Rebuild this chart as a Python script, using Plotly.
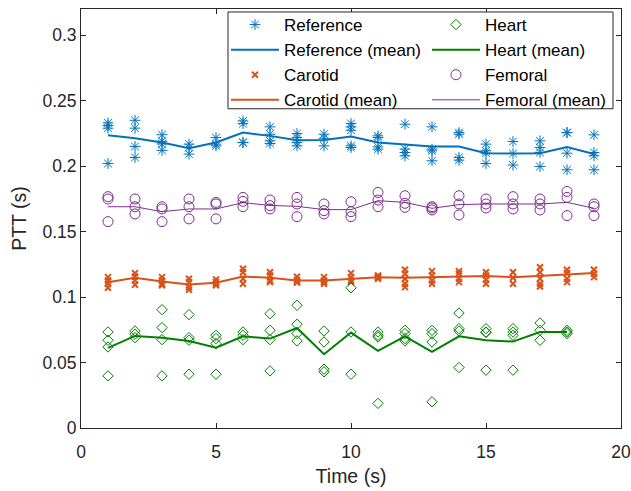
import plotly.graph_objects as go

time_pts = list(range(1, 20))

# Reference samples per time point
ref_vals = [
    [0.233, 0.231, 0.229, 0.202],
    [0.235, 0.229, 0.215, 0.2066],
    [0.224, 0.219, 0.217, 0.212],
    [0.2168, 0.2142, 0.2092],
    [0.2218, 0.2168, 0.2155],
    [0.2345, 0.2325, 0.218, 0.218],
    [0.230, 0.2244, 0.2193, 0.2173],
    [0.2249, 0.2218, 0.218, 0.2155],
    [0.2244, 0.2213, 0.2155],
    [0.2325, 0.230, 0.2274, 0.2155, 0.2142],
    [0.2231, 0.2218, 0.2147, 0.213],
    [0.232, 0.213, 0.2104, 0.2079],
    [0.230, 0.213, 0.2117, 0.2041],
    [0.2256, 0.2244, 0.2066, 0.2046],
    [0.2168, 0.2117, 0.2099, 0.202],
    [0.2188, 0.2096, 0.2008],
    [0.2193, 0.2142, 0.2104, 0.1997],
    [0.2256, 0.2256, 0.2099, 0.1972],
    [0.2239, 0.2104, 0.2079, 0.1972],
]
ref_mean = [0.2236, 0.2213, 0.2180, 0.2137, 0.2180, 0.2256, 0.2231, 0.2198, 0.2200, 0.2226,
            0.2180, 0.2163, 0.2150, 0.2150, 0.2099, 0.2097, 0.2099, 0.2145, 0.2092]

carotid_vals = [
    [0.1152, 0.1127, 0.1102, 0.1071],
    [0.1183, 0.1157, 0.1127, 0.1094],
    [0.1152, 0.1127, 0.1102, 0.1089],
    [0.1140, 0.1114, 0.1076, 0.1056],
    [0.1135, 0.1114, 0.1102, 0.1089],
    [0.1216, 0.1190, 0.1140, 0.1102],
    [0.1190, 0.1165, 0.1127, 0.1114],
    [0.1155, 0.1130, 0.1115, 0.1110],
    [0.1152, 0.1127, 0.1114, 0.1102],
    [0.1183, 0.1152, 0.1127, 0.1114],
    [0.1165, 0.1155, 0.1150, 0.1140],
    [0.1208, 0.1178, 0.1140, 0.1102, 0.1076],
    [0.1198, 0.1165, 0.1127, 0.1102],
    [0.1198, 0.1178, 0.1140, 0.1114],
    [0.1190, 0.1165, 0.1132, 0.1102],
    [0.1190, 0.1147, 0.1102],
    [0.1228, 0.1190, 0.1140, 0.1102, 0.1081],
    [0.1208, 0.1183, 0.1140, 0.1114],
    [0.1208, 0.1178, 0.1152],
]
carotid_mean = [0.1114, 0.1147, 0.1119, 0.1096, 0.1109, 0.1157, 0.1147, 0.1127, 0.1127, 0.1140,
                0.1152, 0.1147, 0.1152, 0.1157, 0.1160, 0.1152, 0.1165, 0.1173, 0.1183]

heart_time = list(range(1, 19))
heart_vals = [
    [0.0733, 0.0670, 0.0619, 0.0398],
    [0.0741, 0.0716, 0.0690],
    [0.0904, 0.0767, 0.0675, 0.0398],
    [0.0866, 0.0690, 0.0670, 0.0411],
    [0.0708, 0.0683, 0.0645, 0.0411],
    [0.0733, 0.0708, 0.0675],
    [0.0873, 0.0746, 0.0675, 0.0436],
    [0.0937, 0.0792, 0.0721, 0.0665],
    [0.0741, 0.0657, 0.0449, 0.0429],
    [0.1071, 0.0733, 0.0411],
    [0.0733, 0.0708, 0.0695, 0.0188],
    [0.0746, 0.0721, 0.0683, 0.0665],
    [0.0746, 0.0721, 0.0657, 0.0200],
    [0.0878, 0.0759, 0.0741, 0.0462],
    [0.0759, 0.0733, 0.0730, 0.0442],
    [0.0759, 0.0733, 0.0708, 0.0442],
    [0.0802, 0.0746, 0.0670],
    [0.0746, 0.0733, 0.0721],
]
heart_mean = [0.0612, 0.0703, 0.0690, 0.0665, 0.0614, 0.0700, 0.0683, 0.0764, 0.0563, 0.0729,
              0.0589, 0.0700, 0.0581, 0.0700, 0.0670, 0.0660, 0.0733, 0.0733]

femoral_vals = [
    [0.1767, 0.1749, 0.1576],
    [0.1749, 0.1690, 0.1635],
    [0.1690, 0.1673, 0.1576],
    [0.1749, 0.1690, 0.1597],
    [0.1723, 0.1711, 0.1597],
    [0.1761, 0.1731, 0.1690],
    [0.1741, 0.1698, 0.1673],
    [0.1761, 0.1711, 0.1614],
    [0.1711, 0.1660, 0.1635],
    [0.1728, 0.1652, 0.1614],
    [0.1799, 0.1741, 0.1690],
    [0.1774, 0.1716, 0.1685],
    [0.1690, 0.1680, 0.1665],
    [0.1774, 0.1711, 0.1627],
    [0.1749, 0.1711, 0.1680],
    [0.1767, 0.1711, 0.1673],
    [0.1749, 0.1711, 0.1665],
    [0.1807, 0.1761, 0.1622],
    [0.1711, 0.1690, 0.1622],
]
femoral_mean = [0.1690, 0.1690, 0.1652, 0.1673, 0.1673, 0.1721, 0.1700, 0.1693, 0.1668, 0.1668,
                0.1736, 0.1723, 0.1678, 0.1706, 0.1711, 0.1711, 0.1711, 0.1723, 0.1678]

x_ticks = [0, 5, 10, 15, 20]
y_ticks = [0, 0.05, 0.1, 0.15, 0.2, 0.25, 0.3]
y_tick_text = ["0", "0.05", "0.1", "0.15", "0.2", "0.25", "0.3"]

BLUE = "#0072BD"
ORANGE = "#D95319"
GREEN = "#008000"
PURPLE = "#7E2F8E"
FONT = "Liberation Sans, Arial, Helvetica"


def flatten(times, vals):
    xs, ys = [], []
    for t, v in zip(times, vals):
        for y in v:
            xs.append(t)
            ys.append(y)
    return xs, ys


fig = go.Figure()

def add_points(name, times, vals, color, symbol, size, legend, lw=1):
    xs, ys = flatten(times, vals)
    fig.add_trace(go.Scatter(x=xs, y=ys, mode="markers", name=name, legend=legend,
                             marker=dict(symbol=symbol, size=size, color=color,
                                         line=dict(color=color, width=lw))))

def add_mean(name, times, vals, color, width, legend):
    fig.add_trace(go.Scatter(x=times, y=vals, mode="lines", name=name, legend=legend,
                             line=dict(color=color, width=width)))

add_points("Reference", time_pts, ref_vals, BLUE, "asterisk-open", 9, "legend")
add_mean("Reference (mean)", time_pts, ref_mean, BLUE, 2, "legend")
add_points("Carotid", time_pts, carotid_vals, ORANGE, "x-thin-open", 6, "legend", 2)
add_mean("Carotid (mean)", time_pts, carotid_mean, ORANGE, 2, "legend")
add_points("Heart", heart_time, heart_vals, GREEN, "diamond-open", 8, "legend2")
add_mean("Heart (mean)", heart_time, heart_mean, GREEN, 2, "legend2")
add_points("Femoral", time_pts, femoral_vals, PURPLE, "circle-open", 10, "legend2")
add_mean("Femoral (mean)", time_pts, femoral_mean, PURPLE, 1, "legend2")

axis_common = dict(
    showline=True, mirror="allticks", linecolor="#262626", linewidth=1,
    ticks="inside", ticklen=5, tickcolor="#262626",
    showgrid=False, zeroline=False, automargin=False,
    tickfont=dict(family=FONT, size=17.5, color="#262626"),
    title_font=dict(family=FONT, size=19.5, color="#262626"),
)

legend_common = dict(
    orientation="v", yanchor="top", xanchor="left",
    bgcolor="rgba(0,0,0,0)", borderwidth=0,
    font=dict(family=FONT, size=17, color="#000000"),
    itemwidth=48, tracegroupgap=0, traceorder="normal",
)

fig.update_layout(
    width=631, height=491,
    margin=dict(l=81, r=10, t=8, b=63),
    paper_bgcolor="white", plot_bgcolor="white",
    showlegend=True,
    legend=dict(x=0.2685, y=1.0024, **legend_common),
    legend2=dict(x=0.6407, y=1.0024, **legend_common),
    shapes=[dict(type="rect", xref="paper", yref="paper",
                 x0=0.2722, x1=0.9852, y0=0.7619, y1=0.9929,
                 fillcolor="white", line=dict(color="#262626", width=1), layer="above")],
    xaxis=dict(range=[0, 20], tickvals=x_ticks, ticklabelstandoff=8,
               title=dict(text="Time (s)", standoff=8), **axis_common),
    yaxis=dict(range=[0, 0.32], tickvals=y_ticks, ticktext=y_tick_text,
               title=dict(text="PTT (s)", standoff=10), **axis_common),
)

# Remove the default page margin so the 631x491 figure fills the window exactly.
fig.write_html("out.html",
               config={"displayModeBar": False},
               post_script="document.body.style.margin='0';document.body.style.overflow='hidden';")
